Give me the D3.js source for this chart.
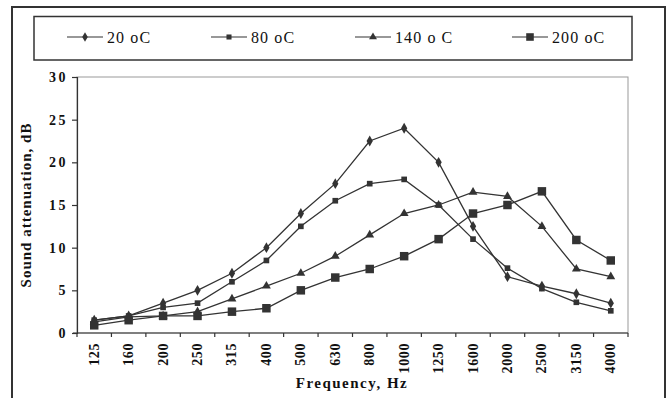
<!DOCTYPE html>
<html>
<head>
<meta charset="utf-8">
<script src="https://cdn.jsdelivr.net/npm/d3@7"></script>
<style>
  body { margin: 0; background: #fff; }
  svg { display: block; font-family: "Liberation Serif", "Times New Roman", serif; }
</style>
</head>
<body>
<div id="chart"></div>
<script>
// Data
const frequencies = ["125", "160", "200", "250", "315", "400", "500", "630", "800", "1000", "1250", "1600", "2000", "2500", "3150", "4000"];
const seriesNames = ["20 oC", "80 oC", "140 o C", "200 oC"];
const values20 = [1.5, 2, 3.5, 5, 7, 10, 14, 17.5, 22.5, 24, 20, 12.5, 6.6, 5.5, 4.6, 3.5];
const values80 = [1.5, 2, 3, 3.5, 6, 8.5, 12.5, 15.5, 17.5, 18, 15, 11, 7.6, 5.2, 3.6, 2.6];
const values140 = [1.3, 1.9, 2, 2.5, 4, 5.5, 7, 9, 11.5, 14, 15, 16.5, 16, 12.5, 7.5, 6.6];
const values200 = [0.9, 1.5, 2, 2, 2.5, 2.9, 5, 6.5, 7.5, 9, 11, 14, 15, 16.6, 10.9, 8.5];
const yTicks = [0, 5, 10, 15, 20, 25, 30];

const width = 671;
const height = 398;
const marginLeft = 77;
const marginRight = 43;
const marginTop = 77;
const plotBottom = 333;

const series = [
  { name: seriesNames[0], values: values20, symbol: d3.symbolDiamond, size: 34 },
  { name: seriesNames[1], values: values80, symbol: d3.symbolSquare, size: 32 },
  { name: seriesNames[2], values: values140, symbol: d3.symbolTriangle, size: 34 },
  { name: seriesNames[3], values: values200, symbol: d3.symbolSquare, size: 72 },
];

const ink = "#333";

const x = d3.scaleBand(frequencies, [marginLeft, width - marginRight]);
const y = d3.scaleLinear([0, 30], [plotBottom, marginTop]);

const svg = d3.create("svg").attr("width", width).attr("height", height);

// Outer frame
svg.append("rect")
  .attr("x", 12).attr("y", 7)
  .attr("width", 653).attr("height", 400)
  .attr("fill", "none").attr("stroke", ink).attr("stroke-width", 2);

// Legend box
svg.append("rect")
  .attr("x", 34).attr("y", 16.5)
  .attr("width", 598).attr("height", 43.5)
  .attr("fill", "none").attr("stroke", ink).attr("stroke-width", 1.5);

const legendX = [67, 211, 355, 512];
const legend = svg.append("g");
series.forEach((s, i) => {
  const g = legend.append("g").attr("transform", `translate(${legendX[i]},37)`);
  g.append("line").attr("x1", 0).attr("x2", 36).attr("stroke", ink).attr("stroke-width", 1.2);
  g.append("path")
    .attr("transform", "translate(18,0)")
    .attr("d", d3.symbol(s.symbol, s.size * 0.8)())
    .attr("fill", ink);
  g.append("text")
    .attr("x", 40).attr("y", 5.5)
    .attr("font-size", 16)
    .attr("letter-spacing", 1.1)
    .attr("fill", "#111")
    .text(s.name);
});

// Plot area border (gray)
svg.append("rect")
  .attr("x", marginLeft).attr("y", marginTop)
  .attr("width", width - marginRight - marginLeft)
  .attr("height", plotBottom - marginTop)
  .attr("fill", "none").attr("stroke", "#999").attr("stroke-width", 1);

// Y axis
svg.append("g")
  .attr("transform", `translate(${marginLeft},0)`)
  .call(d3.axisLeft(y).tickValues(yTicks).tickSize(5).tickPadding(6))
  .call((g) => g.selectAll("path, line").attr("stroke", ink).attr("stroke-width", 1.2))
  .call((g) => g.selectAll("text")
    .attr("font-size", 14).attr("font-weight", "bold").attr("fill", "#111")
    .attr("letter-spacing", 2.5)
    .attr("dx", 2)
    .attr("font-family", "Liberation Serif, serif"));

// X axis: ticks between categories
const xAxis = svg.append("g").attr("transform", `translate(0,${plotBottom})`);
xAxis.append("line")
  .attr("x1", marginLeft - 4).attr("x2", width - marginRight)
  .attr("stroke", ink).attr("stroke-width", 1.2);
xAxis.selectAll(".sep")
  .data(frequencies.concat(["end"]))
  .join("line")
  .attr("x1", (d, i) => marginLeft + i * x.step())
  .attr("x2", (d, i) => marginLeft + i * x.step())
  .attr("y1", 0).attr("y2", 4)
  .attr("stroke", ink).attr("stroke-width", 1.2);
xAxis.selectAll(".lbl")
  .data(frequencies)
  .join("text")
  .attr("transform", (d) => `translate(${x(d) + x.bandwidth() / 2 + 4.5},10) rotate(-90)`)
  .attr("text-anchor", "end")
  .attr("font-size", 14)
  .attr("letter-spacing", 0.6)
  .attr("font-weight", "bold")
  .attr("fill", "#111")
  .text((d) => d);

// Axis titles
svg.append("text")
  .attr("transform", `translate(31,205) rotate(-90)`)
  .attr("text-anchor", "middle")
  .attr("font-size", 15)
  .attr("letter-spacing", 1)
  .attr("font-weight", "bold")
  .attr("fill", "#111")
  .text("Sound attenuation, dB");

svg.append("text")
  .attr("x", 352)
  .attr("y", 388)
  .attr("text-anchor", "middle")
  .attr("font-size", 15)
  .attr("letter-spacing", 1.5)
  .attr("font-weight", "bold")
  .attr("fill", "#111")
  .text("Frequency, Hz");

// Lines and markers
const line = d3.line()
  .x((d, i) => x(frequencies[i]) + x.bandwidth() / 2)
  .y((d) => y(d));

series.forEach((s) => {
  svg.append("path")
    .attr("d", line(s.values))
    .attr("fill", "none")
    .attr("stroke", ink)
    .attr("stroke-width", 1.3);
  svg.append("g")
    .selectAll("path")
    .data(s.values)
    .join("path")
    .attr("transform", (d, i) => `translate(${x(frequencies[i]) + x.bandwidth() / 2},${y(d)})`)
    .attr("d", d3.symbol(s.symbol, s.size)())
    .attr("fill", ink);
});

document.getElementById("chart").appendChild(svg.node());
</script>
</body>
</html>
